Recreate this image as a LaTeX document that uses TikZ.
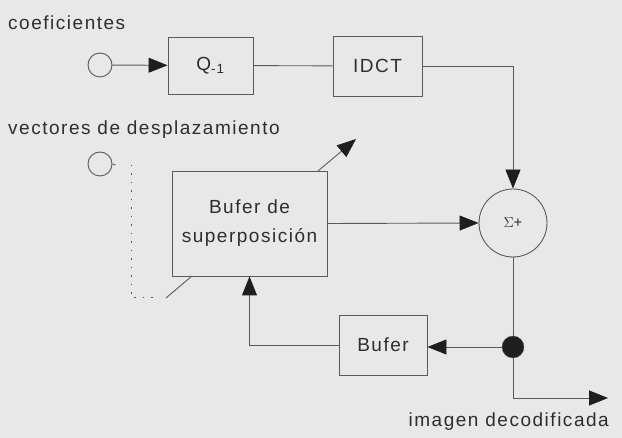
\documentclass[tikz,border=0pt]{standalone}
\usepackage{fontspec}
\setmainfont[LetterSpace=8]{Liberation Sans}
\usetikzlibrary{arrows.meta,calc}
\definecolor{bg}{HTML}{E8E8E8}
\definecolor{ln}{HTML}{5A5A5A}
\definecolor{tx}{HTML}{2E2E2E}
\definecolor{tip}{HTML}{1E1E1E}
\begin{document}
\begin{tikzpicture}[x=1pt,y=-1pt,
  every node/.style={text=tx,font=\fontsize{19}{23}\selectfont},
  wire/.style={draw=ln,line width=0.9pt},
  arr/.style={wire,-{Triangle[length=19pt,width=15pt,color=tip]}},
  blk/.style={draw=ln,line width=0.9pt,rectangle,inner sep=0pt},
  port/.style={draw=ln,line width=0.9pt,circle,minimum size=24pt,inner sep=0pt},
  lbl/.style={inner sep=0pt,anchor=base west}]
\fill[bg] (0,0) rectangle (622,438);
\useasboundingbox (0,0) rectangle (622,438);
% labels
\node[lbl] (lc) at (8,30) {coeficientes};
\node[lbl] (lv) at (8,135) {vectores de desplazamiento};
\node[inner sep=0pt,anchor=base east] (li) at (609,427) {imagen decodificada};
% nodes
\node[port] (c1) at (100,65) {};
\node[port] (c2) at (100,164) {};
\node[blk,minimum width=85pt,minimum height=57pt] (q) at (210.5,65.5) {Q\textsubscript{-1}};
\node[blk,minimum width=89pt,minimum height=60pt] (idct) at (377.5,66) {IDCT};
\node[draw=ln,line width=0.9pt,circle,minimum size=68pt,inner sep=0pt] (sum) at (513,223) {\fontsize{15}{17}\selectfont$\Sigma$+};
\node[blk,minimum width=155pt,minimum height=105pt,align=center] (bs) at (249.5,223.5) {Bufer de\\[6pt]superposición};
\node[blk,minimum width=88pt,minimum height=60pt] (buf) at (383,345) {Bufer};
\node[circle,fill=tip,draw=ln,minimum size=22pt,inner sep=0pt] (dot) at (513,347) {};
\coordinate (out) at (608,398);
\coordinate (da) at (318,171);
\coordinate (db) at (356,139);
\coordinate (la) at (192,276);
\coordinate (lb) at (166,298);
\coordinate (d1) at (131,165);
\coordinate (d2) at (131,298);
\coordinate (d3) at (156,298);
% connectors
\draw[arr] (c1) -- (q);
\draw[wire] (q) -- (idct);
\draw[arr] (idct.east) -| (sum.north);
\draw[arr] (bs.east) -- (sum.west);
\draw[wire] (sum.south) -- (dot.north);
\draw[arr] (dot.west) -- (buf.east |- dot.west);
\draw[arr] (buf.west) -| (bs.south);
\draw[arr] (dot.south) |- (out);
\draw[arr] (da) -- (db);
\draw[wire] (la) -- (lb);
\draw[draw=ln,line width=1pt,dash pattern=on 1.5pt off 7pt] (d1) -- (d2) -- (d3);
\draw[wire] (c2.east) -- ++(3,1);
\end{tikzpicture}
\end{document}
